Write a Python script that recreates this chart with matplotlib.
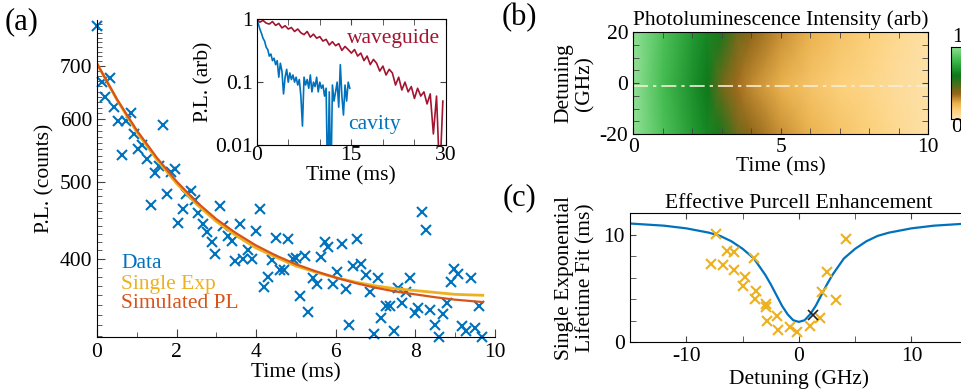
import numpy as np
import matplotlib
matplotlib.use("Agg")
import matplotlib.pyplot as plt
from matplotlib.colors import LinearSegmentedColormap
from matplotlib.ticker import FixedLocator, NullFormatter

plt.rcParams['font.family'] = ['Liberation Serif', 'DejaVu Serif']
plt.rcParams['font.size'] = 15.5
plt.rcParams['axes.unicode_minus'] = False

BLUE = '#0072BD'
ORANGE = '#D95319'
GOLD = '#EDB120'
DARKRED = '#A2142F'

# ---------------- (a) PL decay near resonance ----------------
data_t = [0.00, 0.12, 0.20, 0.33, 0.43, 0.54, 0.62, 0.73, 0.85, 0.93,
          1.04, 1.12, 1.25, 1.35, 1.46, 1.56, 1.65, 1.77, 1.85, 1.96,
          2.04, 2.15, 2.24, 2.36, 2.46, 2.55, 2.67, 2.76, 2.88, 2.96,
          3.09, 3.17, 3.30, 3.40, 3.48, 3.59, 3.68, 3.80, 3.89, 3.99,
          4.09, 4.20, 4.30, 4.39, 4.50, 4.60, 4.70, 4.81, 4.92, 5.00,
          5.10, 5.23, 5.31, 5.42, 5.52, 5.62, 5.73, 5.81, 5.94, 6.04,
          6.15, 6.25, 6.34, 6.44, 6.54, 6.65, 6.76, 6.86, 6.96, 7.07,
          7.15, 7.26, 7.36, 7.47, 7.57, 7.68, 7.78, 7.88, 7.99, 8.07,
          8.18, 8.28, 8.38, 8.49, 8.60, 8.69, 8.79, 8.89, 8.97, 9.08,
          9.19, 9.29, 9.40, 9.50, 9.61, 9.69]
data_pl = [786, 669, 639, 676, 622, 597, 541, 597, 611, 575,
           550, 556, 534, 468, 514, 524, 590, 483, 515, 519,
           444, 462, 483, 487, 475, 457, 443, 433, 420, 406,
           467, 440, 427, 422, 398, 443, 400, 411, 400, 434,
           462, 369, 380, 399, 425, 387, 387, 424, 400, 401,
           359, 403, 343, 379, 372, 402, 420, 414, 372, 385,
           418, 367, 330, 392, 424, 394, 382, 363, 322, 379,
           337, 349, 349, 325, 368, 352, 363, 379, 342, 347,
           458, 435, 345, 330, 319, 341, 352, 374, 389, 383,
           329, 325, 379, 327, 349, 319]

fit_t = [0, 0.5, 1.0, 1.5, 2.0, 2.5, 3.0, 3.5, 4.0, 4.5,
         5.0, 5.5, 6.0, 6.5, 7.0, 7.5, 8.0, 8.5, 9.0, 9.7]
single_exp = [705, 635, 578, 534, 498, 469, 446, 428, 413, 402,
              392, 385, 379, 374, 370, 367, 365, 363, 361, 360]
simulated_pl = [705, 636, 581, 537, 501, 472, 449, 431, 416, 404,
                394, 386, 379, 373, 368, 364, 361, 358, 355.5, 353]

# ---------------- inset: waveguide vs cavity ----------------
wg_t = np.arange(0, 30, 0.5)
wg_pl = [1.00, 0.90, 0.96, 0.87, 0.84, 0.92, 0.80, 0.86, 0.73, 0.79,
         0.70, 0.74, 0.64, 0.70, 0.61, 0.57, 0.64, 0.52, 0.58, 0.50,
         0.53, 0.45, 0.48, 0.39, 0.44, 0.38, 0.41, 0.32, 0.37, 0.33,
         0.29, 0.33, 0.26, 0.29, 0.22, 0.26, 0.19, 0.23, 0.20, 0.15,
         0.18, 0.13, 0.16, 0.14, 0.09, 0.12, 0.075, 0.10, 0.07, 0.085,
         0.055, 0.08, 0.06, 0.07, 0.045, 0.065, 0.015, 0.06, 0.003, 0.05]
cav_t = np.arange(0, 15, 0.25)
cav_pl = [1.00, 0.85, 0.70, 0.60, 0.50, 0.45, 0.36, 0.33, 0.26, 0.28,
          0.22, 0.24, 0.19, 0.22, 0.12, 0.20, 0.15, 0.065, 0.12, 0.16,
          0.10, 0.14, 0.11, 0.13, 0.10, 0.12, 0.09, 0.11, 0.06, 0.02,
          0.12, 0.09, 0.11, 0.08, 0.13, 0.07, 0.10, 0.085, 0.12, 0.07,
          0.10, 0.08, 0.09, 0.06, 0.08, 0.002, 0.07, 0.002, 0.09, 0.05,
          0.07, 0.10, 0.04, 0.19, 0.06, 0.03, 0.09, 0.05, 0.10, 0.08]

# ---------------- (b) simulated PL map ----------------
map_t = [0, 1, 2, 2.5, 3, 3.5, 4, 5, 6, 7, 8, 9, 10]
map_det = [-20, -1, 20]
level_edge = [1.0, 0.84, 0.70, 0.64, 0.56, 0.42, 0.36, 0.27, 0.21, 0.16, 0.12, 0.07, 0.02]
level_center = [1.0, 0.82, 0.67, 0.59, 0.41, 0.33, 0.28, 0.21, 0.16, 0.12, 0.09, 0.05, 0.02]
line_det = -1

# ---------------- (c) lifetime vs detuning ----------------
model_det = [-15, -12, -10, -8, -7, -6, -5, -4, -3, -2.5, -2, -1.5, -1, -0.5, 0,
             0.5, 1, 1.5, 2, 2.5, 3, 4, 5, 6, 7, 8, 10, 12, 15]
model_life = [11.05, 10.85, 10.6, 10.2, 9.9, 9.4, 8.7, 7.8, 6.3, 5.4, 4.4, 3.4, 2.6, 2.05, 1.9,
              2.05, 2.6, 3.4, 4.4, 5.4, 6.3, 7.8, 8.7, 9.4, 9.9, 10.2, 10.6, 10.85, 11.05]
meas_det = [-7.38, -7.79, -6.73, -6.35, -5.75, -5.75, -4.77, -4.95, -3.97, -3.82,
            -3.91, -2.96, -2.93, -2.85, -1.93, -1.84, -0.80, -0.21, 0.98, 1.87,
            2.07, 2.46, 3.32, 4.15]
meas_life = [10.06, 7.28, 7.15, 8.45, 8.37, 6.74, 6.11, 5.25, 7.80, 4.80,
             4.07, 3.54, 3.32, 2.00, 2.42, 1.16, 1.45, 0.96, 1.53, 2.24,
             4.72, 6.55, 3.97, 9.63]
black_det = [1.27]
black_life = [2.51]

W, H = 962, 392
fig = plt.figure(figsize=(W / 100, H / 100), dpi=100)


def px_axes(left, top, right, bottom):
    return fig.add_axes([left / W, 1 - bottom / H, (right - left) / W, (bottom - top) / H])


# ---- (a) main
ax = px_axes(97, 20, 494.7, 337)
ax.plot(data_t, data_pl, 'x', color=BLUE, ms=7, mew=1.5, clip_on=False)
ax.plot(fit_t, single_exp, '-', color=GOLD, lw=2)
ax.plot(fit_t, simulated_pl, '-', color=ORANGE, lw=1.6)
ax.set_yscale('log')
ax.set_xlim(0, 10)
ax.set_ylim(319, 800)
ax.yaxis.set_major_locator(FixedLocator([400, 500, 600, 700]))
ax.yaxis.set_minor_locator(FixedLocator([v for v in range(320, 800, 10) if v % 100]))
ax.set_yticklabels(['400', '500', '600', '700'])
ax.yaxis.set_minor_formatter(NullFormatter())
ax.set_xticks([0, 2, 4, 6, 8, 10])
ax.set_xticks([1, 3, 5, 7, 9], minor=True)
ax.spines['top'].set_visible(False)
ax.spines['right'].set_visible(False)
ax.tick_params(which='both', direction='in', color='#444444')
ax.tick_params(which='major', length=6)
ax.tick_params(which='minor', length=3.5)
ax.tick_params(axis='x', pad=4)
ax.set_xlabel('Time (ms)', labelpad=1)
ax.set_ylabel('P.L. (counts)', labelpad=4)
fig.text(121 / W, 1 - 263 / H, 'Data', color=BLUE, va='center')
fig.text(121 / W, 1 - 284 / H, 'Single Exp', color=GOLD, va='center')
fig.text(121 / W, 1 - 304 / H, 'Simulated PL', color=ORANGE, va='center')
fig.text(5 / W, 1 - 22 / H, '(a)', fontsize=22, va='center')

# ---- inset
axi = px_axes(256.7, 19.3, 446, 145)
axi.plot(wg_t, wg_pl, '-', color=DARKRED, lw=1.2)
axi.plot(cav_t, cav_pl, '-', color=BLUE, lw=1.2)
axi.set_yscale('log')
axi.set_xlim(0, 30)
axi.set_ylim(0.01, 1)
axi.set_yticks([0.01, 0.1, 1])
axi.set_yticklabels(['0.01', '0.1', '1'])
axi.yaxis.set_minor_locator(FixedLocator([]))
axi.set_xticks([0, 15, 30])
axi.set_xticks([5, 10, 20, 25], minor=True)
axi.tick_params(which='both', direction='in', top=True, right=True, color='#444444')
axi.tick_params(axis='x', pad=1)
axi.tick_params(axis='y', pad=3)
axi.tick_params(which='major', length=4)
axi.tick_params(which='minor', length=4)
axi.set_xlabel('Time (ms)', labelpad=0.5)
axi.set_ylabel('P.L. (arb)', labelpad=1)
axi.text(346.7 / W, 1 - 38 / H, 'waveguide', color=DARKRED, va='center', transform=fig.transFigure)
axi.text(348 / W, 1 - 125 / H, 'cavity', color=BLUE, va='center', transform=fig.transFigure)

# ---- (b) map
cmap = LinearSegmentedColormap.from_list('pl', [
    (0.0, '#FEE4B0'), (0.12, '#FCD07A'), (0.22, '#E8AE48'), (0.34, '#9A6419'),
    (0.47, '#4C6E1B'), (0.6, '#0B7A1B'), (0.8, '#3DB84A'), (1.0, '#92E296')])
axb = px_axes(633.3, 32.3, 928.3, 134)
Z = np.array([level_edge, level_center, level_edge])
axb.pcolormesh(map_t, map_det, Z, cmap=cmap, vmin=0, vmax=1, shading='gouraud')
axb.axhline(line_det, color='#F4EED8', lw=1.2, dashes=(9, 3, 2, 3))
axb.set_xlim(0, 10)
axb.set_ylim(-20, 20)
axb.set_xticks([0, 5, 10])
axb.set_xticks([1, 2, 3, 4, 6, 7, 8, 9], minor=True)
axb.set_yticks([-20, 0, 20])
axb.set_yticklabels(['-20', '0', '20'])
axb.set_yticks([-15, -10, -5, 5, 10, 15], minor=True)
axb.tick_params(which='both', direction='in', top=True, right=True, color='#444444', length=4)
axb.tick_params(axis='x', pad=3)
axb.set_title('Photoluminescence Intensity (arb)', fontsize=15.5, pad=5)
axb.set_xlabel('Time (ms)', labelpad=0)
axb.set_ylabel('Detuning\n(GHz)', labelpad=4, linespacing=1.1)
fig.text(502 / W, 1 - 18 / H, '(b)', fontsize=22, va='center')

cax = px_axes(950.7, 46.7, 969, 119)
cax.imshow(np.linspace(1, 0, 100).reshape(-1, 1), cmap=cmap, aspect='auto',
           extent=[0, 1, 0, 1], vmin=0, vmax=1)
cax.set_xticks([])
cax.set_yticks([])
fig.text(957 / W, 1 - 38 / H, '1', ha='center', va='center')
fig.text(956.5 / W, 1 - 128 / H, '0', ha='center', va='center')

# ---- (c) lifetime
axc = px_axes(630, 213.3, 967.75, 342.3)
axc.plot(model_det, model_life, '-', color=BLUE, lw=1.6)
axc.plot(meas_det, meas_life, 'x', color=GOLD, ms=7, mew=1.5)
axc.plot(black_det, black_life, 'x', color='#222222', ms=7, mew=1.2)
axc.set_xlim(-15, 15)
axc.set_ylim(0, 12)
axc.set_xticks([-10, 0, 10])
axc.set_xticklabels(['-10', '0', '10'])
axc.set_xticks([-15, -5, 5, 15], minor=True)
axc.set_yticks([0, 10])
axc.set_yticks([2, 4, 6, 8], minor=True)
axc.tick_params(which='both', direction='in', top=True, right=True, color='#444444', length=4)
axc.set_title('Effective Purcell Enhancement', fontsize=15.5, pad=3)
axc.set_xlabel('Detuning (GHz)', labelpad=2)
axc.set_ylabel('Single Exponential\nLifetime Fit (ms)', labelpad=6, linespacing=1.1)
fig.text(503 / W, 1 - 198 / H, '(c)', fontsize=22, va='center')

fig.savefig('out.png', dpi=100)
